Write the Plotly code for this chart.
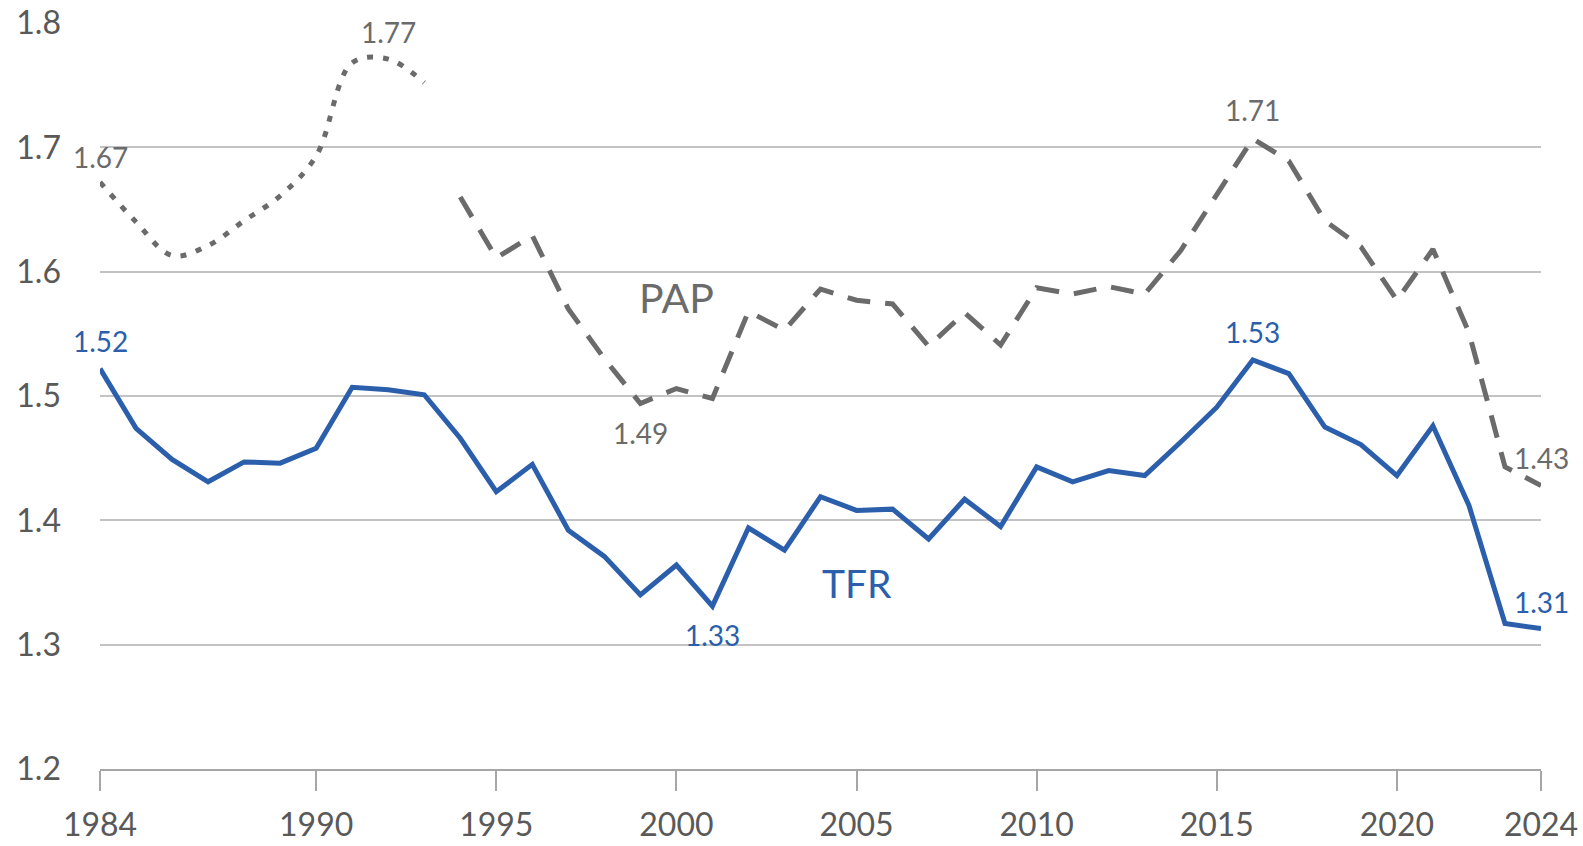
import plotly.graph_objects as go

years = [1984, 1985, 1986, 1987, 1988, 1989, 1990, 1991, 1992, 1993,
         1994, 1995, 1996, 1997, 1998, 1999, 2000, 2001, 2002, 2003,
         2004, 2005, 2006, 2007, 2008, 2009, 2010, 2011, 2012, 2013,
         2014, 2015, 2016, 2017, 2018, 2019, 2020, 2021, 2022, 2023, 2024]

tfr = [1.522, 1.474, 1.449, 1.431, 1.447, 1.446, 1.458, 1.507, 1.505, 1.501,
       1.466, 1.423, 1.445, 1.392, 1.371, 1.340, 1.364, 1.331, 1.394, 1.376,
       1.419, 1.408, 1.409, 1.385, 1.417, 1.395, 1.443, 1.431, 1.440, 1.436,
       1.463, 1.491, 1.529, 1.518, 1.475, 1.461, 1.436, 1.476, 1.412, 1.317, 1.313]

pap_early_years = [1984, 1985, 1986, 1987, 1988, 1989, 1990, 1991, 1992, 1993]
pap_early = [1.672, 1.640, 1.613, 1.621, 1.641, 1.661, 1.693, 1.768, 1.771, 1.752]

pap_late_years = [1994, 1995, 1996, 1997, 1998, 1999, 2000, 2001, 2002, 2003,
                  2004, 2005, 2006, 2007, 2008, 2009, 2010, 2011, 2012, 2013,
                  2014, 2015, 2016, 2017, 2018, 2019, 2020, 2021, 2022, 2023, 2024]
pap_late = [1.660, 1.611, 1.629, 1.570, 1.530, 1.494, 1.506, 1.498, 1.568, 1.553,
            1.586, 1.577, 1.574, 1.540, 1.567, 1.541, 1.587, 1.582, 1.588, 1.582,
            1.617, 1.662, 1.707, 1.689, 1.641, 1.620, 1.577, 1.618, 1.551, 1.443, 1.428]

x_ticks = [1984, 1990, 1995, 2000, 2005, 2010, 2015, 2020, 2024]
y_ticks = [1.2, 1.3, 1.4, 1.5, 1.6, 1.7, 1.8]

BLUE = "#2b5fac"
GRAY = "#6b6b6b"
LABEL_GRAY = "#595959"
FONT = "Lato"

fig = go.Figure()
fig.add_trace(go.Scatter(x=pap_early_years, y=pap_early, mode="lines",
                         line=dict(color=GRAY, width=5, dash="6px,10px", shape="spline", smoothing=1),
                         cliponaxis=False, hoverinfo="skip"))
fig.add_trace(go.Scatter(x=pap_late_years, y=pap_late, mode="lines",
                         line=dict(color=GRAY, width=5, dash="23px,15px"),
                         cliponaxis=False, hoverinfo="skip"))
fig.add_trace(go.Scatter(x=years, y=tfr, mode="lines",
                         line=dict(color=BLUE, width=5),
                         cliponaxis=False, hoverinfo="skip"))

def val(xs, ys, yr):
    return ys[xs.index(yr)]

labels = [
    (pap_early_years, pap_early, 1984, GRAY, 0, 25),
    (pap_early_years, pap_early, 1992, GRAY, 0, 27),
    (pap_late_years, pap_late, 1999, GRAY, 0, -30),
    (pap_late_years, pap_late, 2016, GRAY, 0, 29),
    (pap_late_years, pap_late, 2024, GRAY, 0, 28),
    (years, tfr, 1984, BLUE, 0, 28),
    (years, tfr, 2001, BLUE, 0, -29),
    (years, tfr, 2016, BLUE, 0, 28),
    (years, tfr, 2024, BLUE, 0, 27),
]
for xs, ys, yr, col, dx, dy in labels:
    v = val(xs, ys, yr)
    fig.add_annotation(x=yr, y=v, text=f"{v:.2f}", showarrow=False,
                       xshift=dx, yshift=dy,
                       font=dict(family=FONT, size=28, color=col))

fig.add_annotation(x=2000, y=1.579, text="PAP", showarrow=False,
                   font=dict(family=FONT, size=41, color=GRAY))
fig.add_annotation(x=2005, y=1.350, text="TFR", showarrow=False,
                   font=dict(family=FONT, size=39, color=BLUE))

fig.update_layout(
    width=1583, height=846,
    margin=dict(l=100, r=42, t=23, b=77),
    paper_bgcolor="white", plot_bgcolor="white",
    showlegend=False,
    font=dict(family=FONT, color=LABEL_GRAY),
)
fig.update_xaxes(range=[1984, 2024], tickvals=x_ticks, ticks="outside", ticklen=20,
                 tickwidth=1.5, tickcolor="#a6a6a6", showgrid=False, zeroline=False,
                 showline=True, linecolor="#a6a6a6", linewidth=1.5,
                 tickfont=dict(family=FONT, size=32, color=LABEL_GRAY),
                 ticklabelstandoff=7, automargin=False)
fig.update_yaxes(range=[1.2, 1.8], tickvals=y_ticks, tickformat=".1f",
                 showgrid=True, gridcolor="#c3c3c3", gridwidth=1.5, zeroline=False,
                 showline=False,
                 tickfont=dict(family=FONT, size=32, color=LABEL_GRAY),
                 ticklabelstandoff=38, automargin=False)

fig.write_html("out.html", config={"displayModeBar": False},
               post_script="document.body.style.margin='0';document.body.style.overflow='hidden';")
